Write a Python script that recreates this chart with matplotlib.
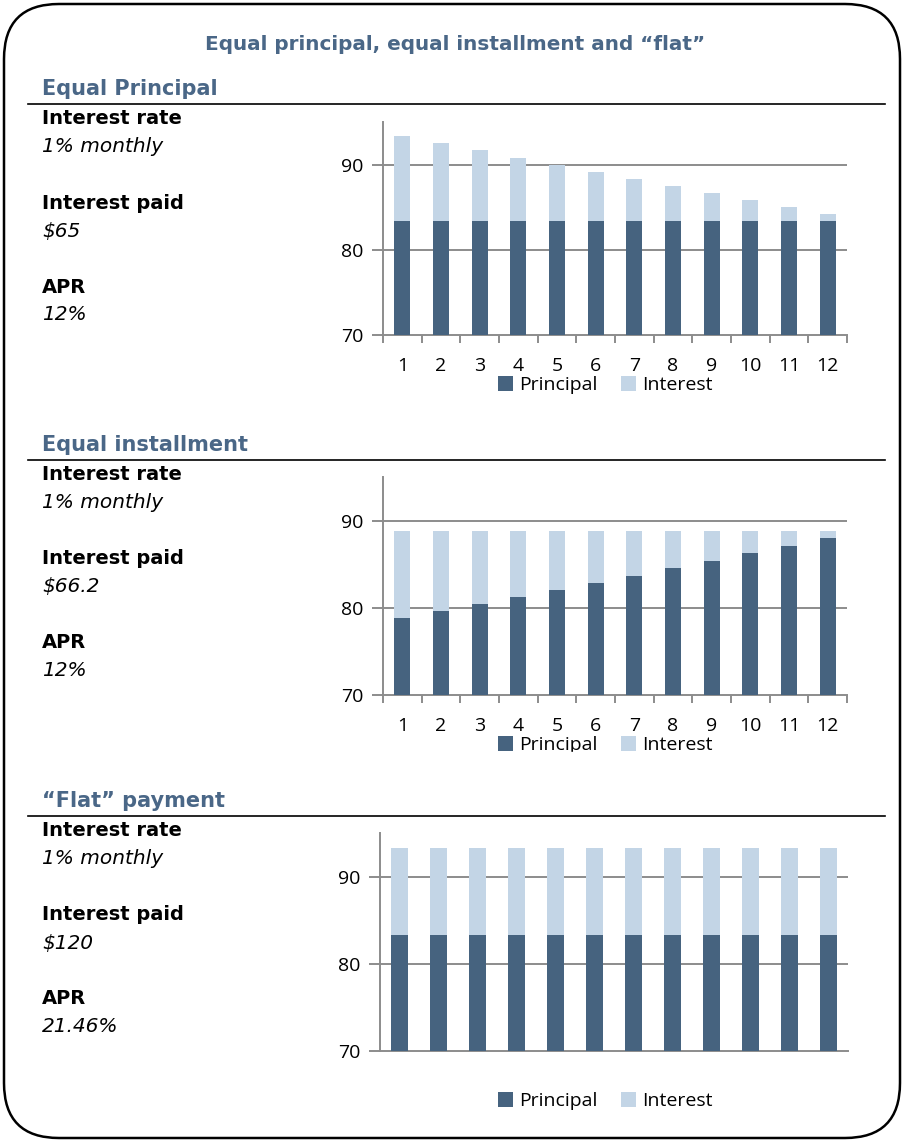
import matplotlib.pyplot as plt
from matplotlib.patches import FancyBboxPatch, Rectangle

W, H = 907, 1142

months = list(range(1, 13))

# equal principal
ep_principal = [83.33] * 12
ep_interest = [10.00, 9.17, 8.33, 7.50, 6.67, 5.83, 5.00, 4.17, 3.33, 2.50, 1.67, 0.83]

# equal installment
ei_principal = [78.85, 79.64, 80.43, 81.24, 82.05, 82.87, 83.70, 84.54, 85.38, 86.24, 87.10, 87.97]
ei_interest = [10.00, 9.21, 8.42, 7.61, 6.80, 5.98, 5.15, 4.31, 3.47, 2.61, 1.75, 0.88]

# flat
fl_principal = [83.33] * 12
fl_interest = [10.00] * 12

title = "Equal principal, equal installment and \u201cflat\u201d"
sections = ["Equal Principal", "Equal installment", "\u201cFlat\u201d payment"]
info = [
    [("Interest rate", "1% monthly"), ("Interest paid", "$65"), ("APR", "12%")],
    [("Interest rate", "1% monthly"), ("Interest paid", "$66.2"), ("APR", "12%")],
    [("Interest rate", "1% monthly"), ("Interest paid", "$120"), ("APR", "21.46%")],
]

DARK = "#46637f"
LIGHT = "#c3d5e6"
HEAD = "#4a6787"
GRID = "#8c8c8c"

# charts use Open Sans, side texts use DejaVu Sans
plt.rcParams['font.family'] = ['Open Sans', 'DejaVu Sans']
TXT = ['DejaVu Sans']

fig = plt.figure(figsize=(W / 100, H / 100), dpi=100)

def fx(x):
    return x / W

def fy(y):
    return 1 - y / H

# background axes in pixel units, for the rounded frame
bg = fig.add_axes([0, 0, 1, 1], zorder=-1)
bg.set_xlim(0, W)
bg.set_ylim(H, 0)
bg.axis("off")
bg.add_patch(FancyBboxPatch((4, 4), 896, 1134,
                            boxstyle="round,pad=0,rounding_size=55",
                            fill=False, ec="black", lw=1.8))

fig.text(fx(455), fy(44), title, ha="center", va="center", fontsize=14.4,
         fontweight="bold", color=HEAD, family=TXT)

head_y = [89, 445, 801]
for i, name in enumerate(sections):
    y0 = head_y[i]
    fig.text(fx(42), fy(y0), name, ha="left", va="center", fontsize=15,
             fontweight="bold", color=HEAD, family=TXT)
    fig.add_artist(plt.Line2D([fx(28), fx(885)], [fy(y0 + 15), fy(y0 + 15)],
                              color="black", lw=1.2, transform=fig.transFigure))
    offs = [30, 58, 114, 142, 198, 225]
    k = 0
    for label, value in info[i]:
        fig.text(fx(42), fy(y0 + offs[k]), label, ha="left", va="center",
                 fontsize=14, fontweight="bold", color="black", family=TXT)
        fig.text(fx(42), fy(y0 + offs[k + 1]), value, ha="left", va="center",
                 fontsize=14.5, fontstyle="italic", color="black", family=TXT)
        k += 2

charts = [
    (ep_principal, ep_interest, (383, 847, 122, 335), True, 385),
    (ei_principal, ei_interest, (383, 847, 477, 695), True, 745),
    (fl_principal, fl_interest, (380, 848, 833, 1051), False, 1101),
]

for principal, interest, (l, r, t, b), show_x, leg_y in charts:
    ax = fig.add_axes([fx(l), fy(b), fx(r) - fx(l), fy(t) - fy(b)])
    ax.bar(months, principal, width=0.42, color=DARK, label="Principal", zorder=3)
    ax.bar(months, interest, width=0.42, bottom=principal, color=LIGHT,
           label="Interest", zorder=3)
    ax.set_ylim(70, 95)
    ax.set_xlim(0.5, 12.5)
    ax.set_yticks([70, 80, 90])
    for g in [80, 90]:
        ax.axhline(g, color=GRID, lw=1.4, zorder=1)
    for s in ["top", "right"]:
        ax.spines[s].set_visible(False)
    for s in ["left", "bottom"]:
        ax.spines[s].set_color(GRID)
        ax.spines[s].set_linewidth(1.4)
    ax.tick_params(axis="y", length=8, width=1.4, color=GRID, labelsize=14, pad=6)
    if show_x:
        ax.set_xticks(months)
        ax.set_xticks([m + 0.5 for m in range(0, 13)], minor=True)
        ax.tick_params(axis="x", which="major", length=0, labelsize=14, pad=16)
        ax.tick_params(axis="x", which="minor", length=6, width=1.4, color=GRID)
    else:
        ax.set_xticks([])
    ax.legend(loc="center", bbox_to_anchor=(fx(605), fy(leg_y)),
              bbox_transform=fig.transFigure, ncol=2, frameon=False,
              handlelength=0.8, handleheight=0.8, handletextpad=0.3,
              columnspacing=1.2, fontsize=14)

# chart area of the middle panel is cut off at the bottom
fig.patches.append(Rectangle((fx(335), fy(770)), fx(850) - fx(335), fy(752) - fy(770),
                             transform=fig.transFigure, color="white", zorder=10))

fig.savefig("out.png", dpi=100)
